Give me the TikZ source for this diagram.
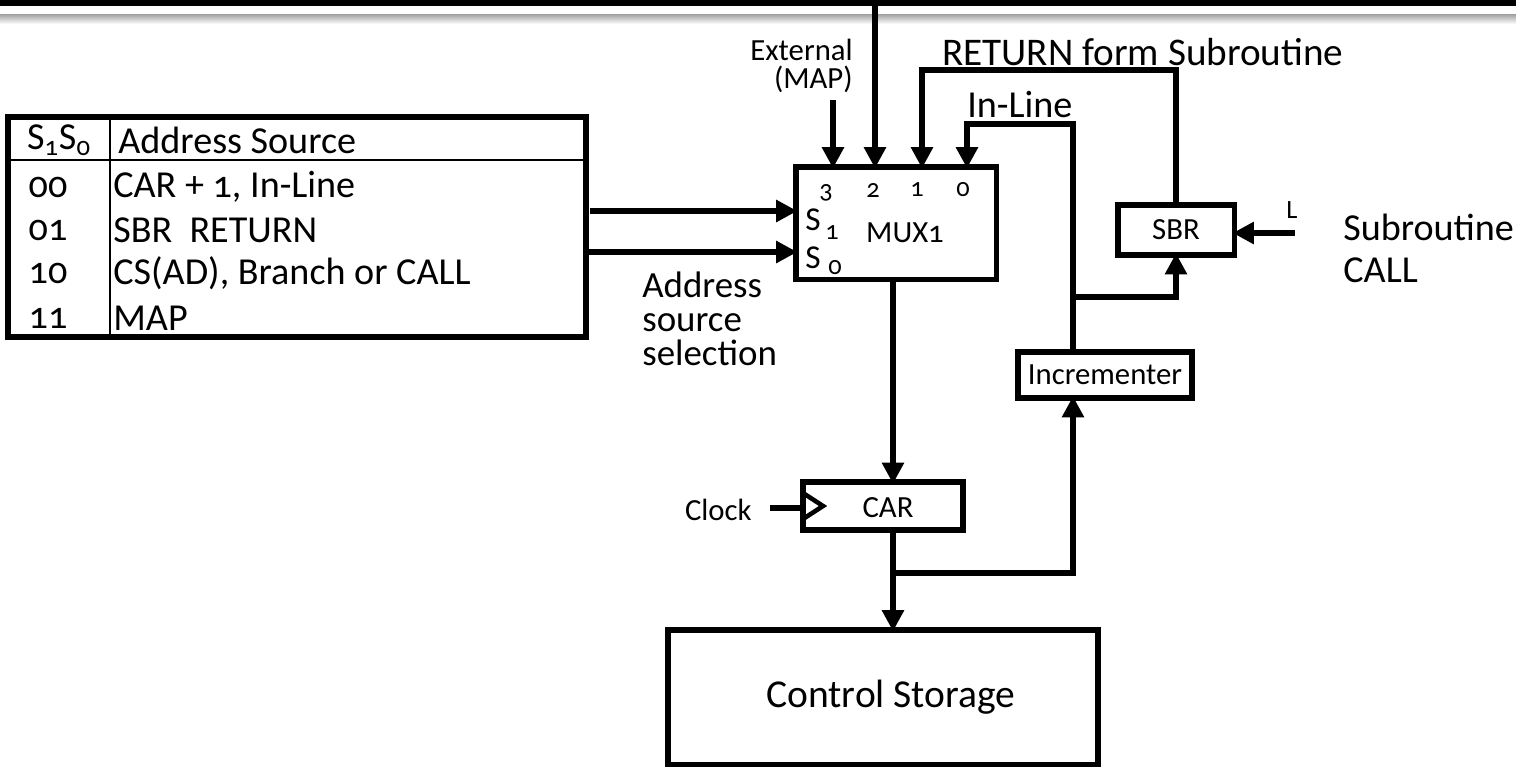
\documentclass[tikz,border=0pt]{standalone}
\usepackage{fontspec}
\setmainfont{Carlito}[Numbers=OldStyle]
\usetikzlibrary{arrows.meta}
\tikzset{
  x=0.02cm, y=-0.02cm,
  wire/.style={line width=3.4pt},
  arr/.style={line width=3.4pt, -{Triangle[length=12pt,width=12pt]}, shorten >=-1pt},
  blk/.style={draw, line width=3.4pt, inner sep=0pt, outer sep=0pt},
  big/.style={font=\fontsize{21.7pt}{24pt}\selectfont, inner sep=0pt},
  med/.style={font=\fontsize{17.5pt}{19pt}\selectfont, inner sep=0pt},
  sml/.style={font=\fontsize{15pt}{17pt}\selectfont, inner sep=0pt},
}
\begin{document}
\begin{tikzpicture}
\useasboundingbox (0,0) rectangle (1516,772);
% top bars
\fill[black] (0,0) rectangle (1516,6);
\shade[top color=gray!75, bottom color=white] (0,14) rectangle (1516,24);

% blocks
\node[blk, minimum width=11.56cm, minimum height=4.4cm] (tbl) at (297,227) {};
\node[blk, minimum width=4.02cm, minimum height=2.26cm] (mux) at (896,223) {};
\node[blk, minimum width=3.2cm, minimum height=0.96cm] (car) at (883,506) {};
\node[blk, minimum width=8.6cm, minimum height=2.7cm] (cs) at (883,697) {};
\node[blk, minimum width=3.48cm, minimum height=0.92cm] (inc) at (1105,375) {};
\node[blk, minimum width=2.34cm, minimum height=1.0cm] (sbr) at (1176,230) {};

% table internals
\draw[line width=1.3pt] (tbl.north west) ++(102,0) coordinate (cdt) -- (cdt |- tbl.south);
\draw[line width=1.3pt] (tbl.north west) ++(0,43) coordinate (hdl) -- (hdl -| tbl.east);
\node[big] (h1) at (59,140) {S\textsubscript{1}S\textsubscript{0}};
\node[big, anchor=west] (h2) at (118,140) {Address Source};
\node[big] (r1a) at (48,187) {00};
\node[big, anchor=west] (r1b) at (113,187) {CAR + 1, In-Line};
\node[big] (r2a) at (48,230) {01};
\node[big, anchor=west] (r2b) at (113,230) {SBR\ \ RETURN};
\node[big] (r3a) at (48,273) {10};
\node[big, anchor=west] (r3b) at (113,273) {CS(AD), Branch or CALL};
\node[big] (r4a) at (48,318) {11};
\node[big, anchor=west] (r4b) at (113,318) {MAP};

% mux internals
\node[sml] (d3) at (826,193) {3};
\node[sml] (d2) at (873,190) {2};
\node[sml] (d1) at (917,190) {1};
\node[sml] (d0) at (963,190) {0};
\node[med, font=\fontsize{19pt}{20pt}\selectfont] (sa) at (813,220) {S};
\node[sml] (sai) at (832,233) {1};
\node[med, font=\fontsize{19pt}{20pt}\selectfont] (sb) at (813,258) {S};
\node[sml] (sbi) at (835,268) {0};
\node[med] (muxl) at (905,233) {MUX1};

% block labels
\node[med] at (car) [xshift=0.1cm, yshift=-0.03cm] {CAR};
\node[big, font=\fontsize{22.5pt}{24pt}\selectfont] at (cs) [xshift=0.16cm] {Control Storage};
\node[med] at (inc) {Incrementer};
\node[med] at (sbr) {SBR};

% free labels
\node[med, anchor=east, align=right, font=\fontsize{17.5pt}{15.8pt}\selectfont] (ext) at (853,66) {External\\(MAP)};
\node[big, font=\fontsize{22.3pt}{24pt}\selectfont, anchor=west] (ret) at (942,52) {RETURN form Subroutine};
\node[big, anchor=west] (inl) at (967,105) {In-Line};
\node[big, anchor=west, align=left, font=\fontsize{21pt}{19.5pt}\selectfont] (ass) at (642,319) {Address\\source\\selection};
\node[med, anchor=east] (clkl) at (752,510) {Clock};
\node[sml] (ll) at (1292,210) {L};
\node[big, anchor=west, align=left] (sub) at (1343,248) {Subroutine\\CALL};

% helper coordinates
\coordinate (topin) at (875,0);
\coordinate (extin) at (833,100);
\coordinate (rc) at (922,70);
\coordinate (lc) at (967,124);
\coordinate (jx) at (1073,297);
\coordinate (mo) at (893,0);
\coordinate (j2) at (893,573);
\coordinate (lin) at (1295,233);
\coordinate (clk) at (770,508);
\coordinate (s1) at (590,211);
\coordinate (s0) at (586,252);

% connectors
\draw[arr] (topin) -- (topin |- mux.north);
\draw[arr] (extin) -- (extin |- mux.north);
\draw[arr] (sbr.north) |- (rc) -- (rc |- mux.north);
\draw[arr] (jx |- inc.north) |- (lc) -- (lc |- mux.north);
\draw[arr] (jx) -| (sbr.south);
\draw[arr] (mo |- mux.south) -- (mo |- car.north);
\draw[arr] (mo |- car.south) -- (mo |- cs.north);
\draw[arr] (j2) -| (jx |- inc.south);
\draw[arr] (lin) -- (lin -| sbr.east);
\draw[arr] (s1) -- (s1 -| mux.west);
\draw[arr] (s0) -- (s0 -| mux.west);
\draw[wire] (clk) -- (clk -| car.west);
\draw[line width=2.6pt, line join=miter] (car.west) ++(0,-13) -- ++(20,13) -- ++(-20,13);
\end{tikzpicture}
\end{document}
